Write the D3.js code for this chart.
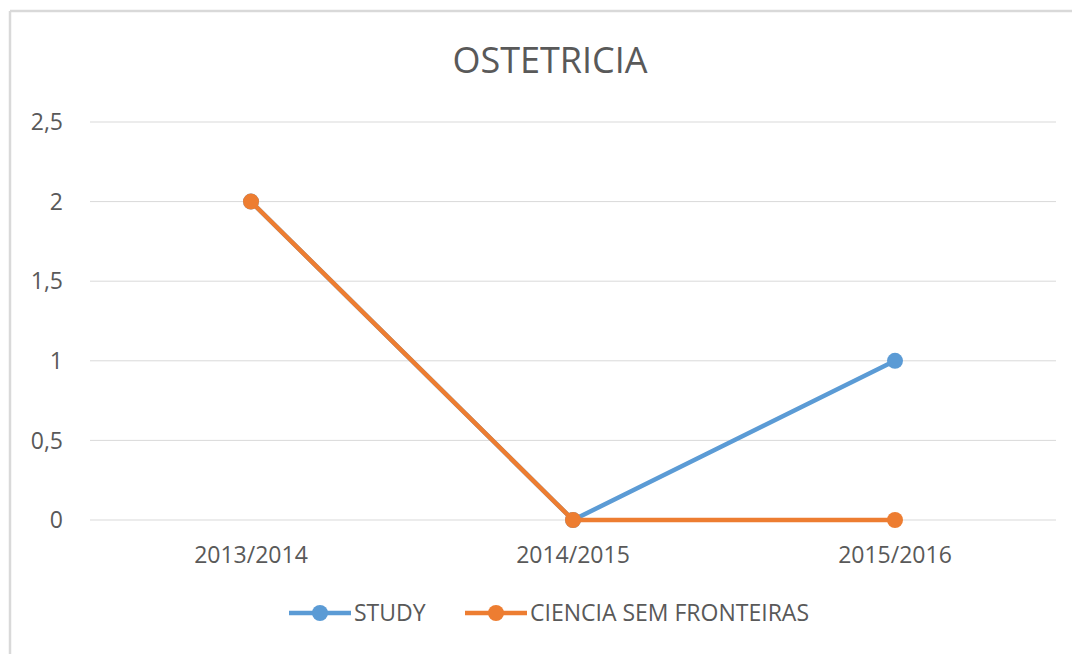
<!DOCTYPE html>
<html>
<head>
<meta charset="utf-8">
<script src="https://cdn.jsdelivr.net/npm/d3@7"></script>
<style>
  body { margin: 0; background: #fff; }
  svg { display: block; font-family: "Open Sans", sans-serif; }
</style>
</head>
<body>
<svg id="chart" width="1072" height="654"></svg>
<script>
const categories = ["2013/2014", "2014/2015", "2015/2016"];
const studyValues = [2, 0, 1];
const csfValues = [2, 0, 0];
const yTicks = [0, 0.5, 1, 1.5, 2, 2.5];

const series = [
  { name: "STUDY", color: "#5b9bd5", values: studyValues },
  { name: "CIENCIA SEM FRONTEIRAS", color: "#ed7d31", values: csfValues }
];

const svg = d3.select("#chart");
const margin = { left: 90, right: 16, top: 122, bottom: 134 };
const W = 1072, H = 654;

// frame (top and left edges only visible)
svg.append("line").attr("x1", 10).attr("x2", W).attr("y1", 11).attr("y2", 11)
  .attr("stroke", "#d9d9d9").attr("stroke-width", 2.5);
svg.append("line").attr("x1", 10).attr("x2", 10).attr("y1", 11).attr("y2", H)
  .attr("stroke", "#d9d9d9").attr("stroke-width", 2.5);

const x = d3.scaleBand().domain(categories).range([margin.left, W - margin.right]);
const y = d3.scaleLinear().domain([0, 2.5]).range([H - margin.bottom, margin.top]);
const fmt = d => String(d).replace(".", ",");
const labelSize = 23;

// gridlines
svg.append("g").selectAll("line").data(yTicks).join("line")
  .attr("x1", margin.left).attr("x2", W - margin.right)
  .attr("y1", d => y(d)).attr("y2", d => y(d))
  .attr("stroke", "#d9d9d9").attr("stroke-width", 1);

// y labels
svg.append("g").selectAll("text").data(yTicks).join("text")
  .attr("x", 63).attr("y", d => y(d)).attr("dy", "0.36em")
  .attr("text-anchor", "end").attr("fill", "#595959").attr("font-size", labelSize)
  .text(fmt);

// x labels
svg.append("g").selectAll("text").data(categories).join("text")
  .attr("x", d => x(d) + x.bandwidth() / 2).attr("y", 563)
  .attr("text-anchor", "middle").attr("fill", "#595959").attr("font-size", labelSize)
  .text(d => d);

// title
svg.append("text").attr("x", 550).attr("y", 73).attr("text-anchor", "middle")
  .attr("fill", "#595959").attr("font-size", 36).text("OSTETRICIA");

const line = d3.line()
  .x((d, i) => x(categories[i]) + x.bandwidth() / 2)
  .y(d => y(d));

series.forEach(s => {
  const g = svg.append("g");
  g.append("path").datum(s.values).attr("d", line)
    .attr("fill", "none").attr("stroke", s.color).attr("stroke-width", 4.5)
    .attr("stroke-linejoin", "round");
  g.selectAll("circle").data(s.values).join("circle")
    .attr("cx", (d, i) => x(categories[i]) + x.bandwidth() / 2)
    .attr("cy", d => y(d)).attr("r", 8).attr("fill", s.color);
});

// legend
const legendPos = [289, 465];
series.forEach((s, i) => {
  const lx = legendPos[i], ly = 613;
  const g = svg.append("g");
  g.append("line").attr("x1", lx).attr("x2", lx + 62).attr("y1", ly).attr("y2", ly)
    .attr("stroke", s.color).attr("stroke-width", 4.5);
  g.append("circle").attr("cx", lx + 31).attr("cy", ly).attr("r", 8).attr("fill", s.color);
  g.append("text").attr("x", lx + 65).attr("y", ly).attr("dy", "0.36em")
    .attr("fill", "#595959").attr("font-size", labelSize).text(s.name);
});
</script>
</body>
</html>
